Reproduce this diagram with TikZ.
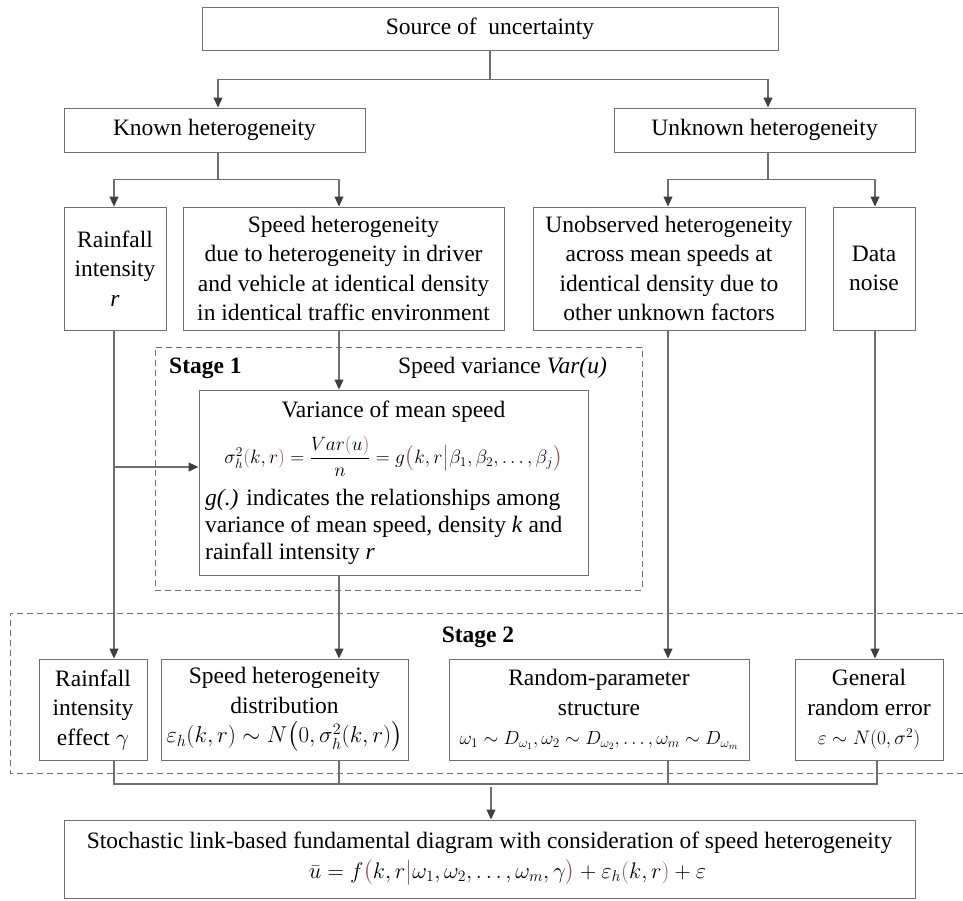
\RequirePackage{fix-cm}
\documentclass[tikz,border=0pt]{standalone}
\usepackage{amsmath}
\usepackage{fontspec}
\setmainfont{Liberation Serif}
\usetikzlibrary{arrows.meta}
\definecolor{linec}{HTML}{6E6E6E}
\definecolor{tipc}{HTML}{3F3F3F}
\definecolor{boxc}{HTML}{707070}
\definecolor{pc}{HTML}{8C5A55}
\newcommand\fs{\fontsize{23.5}{29.5}\selectfont\lineskiplimit=-100pt\relax}
\newcommand\msz[1]{\fontsize{#1}{29.5}\selectfont}
\newcommand\plp{\textcolor{pc}{(}}
\newcommand\prp{\textcolor{pc}{)}}
\newcommand\pblp{\textcolor{pc}{\bigl(}}
\newcommand\pbrp{\textcolor{pc}{\bigr)}}
\newcommand\pbar{\textcolor{pc}{\big|}}
\begin{document}
\begin{tikzpicture}[x=1pt,y=-1pt,
  box/.style={draw=boxc, line width=1pt, inner sep=0pt, align=center, font=\fs, text=black},
  lbl/.style={inner sep=0pt, font=\fs},
  conn/.style={draw=linec, line width=1.1pt},
  arr/.style={conn, -{Triangle[length=10pt,width=9pt,color=tipc]}},
  dashbox/.style={draw=linec, line width=0.9pt, dash pattern=on 6pt off 4pt}]
\useasboundingbox (0,0) rectangle (963,900);
% row 1-2
\node[box, minimum width=576pt, minimum height=43pt] (src) at (490,28.5) {Source of\ \ uncertainty};
\node[box, minimum width=301pt, minimum height=44pt] (known) at (214.5,130) {Known heterogeneity};
\node[box, minimum width=301pt, minimum height=44pt] (unknown) at (764.5,130) {Unknown heterogeneity};
% row 3
\node[box, minimum width=102pt, minimum height=123pt] (rain) at (115,268.5) {Rainfall\\intensity\\\textit{r}};
\node[box, minimum width=321pt, minimum height=123pt] (speed) at (343.5,268.5) {Speed heterogeneity\\due to heterogeneity in driver\\and vehicle at identical density\\in identical traffic environment};
\node[box, minimum width=272pt, minimum height=123pt] (unobs) at (669,268.5) {Unobserved heterogeneity\\across mean speeds at\\identical density due to\\other unknown factors};
\node[box, minimum width=82pt, minimum height=123pt] (data) at (874,268.5) {Data\\noise};
% stage 1
\node[dashbox, minimum width=487pt, minimum height=243pt, inner sep=0pt] (stage1) at (398.5,468.5) {};
\node[lbl, anchor=west, font=\fs\bfseries] (s1) at (169,368) {Stage 1};
\node[lbl, anchor=east] (sv) at (607,368) {Speed variance \textit{Var(u)}};
\node[box, minimum width=389pt, minimum height=185pt] (var) at (393.5,482.5) {};
\node[lbl] (vt) at (393.5,412) {Variance of mean speed};
\node[lbl, font=\msz{19.3}] (vf) at (393.5,456) {$\sigma_h^2\plp k,r\prp=\dfrac{Var\plp u\prp}{n}=g\pblp k,r\pbar\beta_1,\beta_2,\dots,\beta_j\pbrp$};
\node[lbl, align=left, anchor=base west, font=\fontsize{23.5}{27}\selectfont] (vd) at (205,559) {\textit{g(.)} indicates the relationships among\\variance of mean speed, density \textit{k} and\\rainfall intensity \textit{r}};
% stage 2
\draw[dashbox] (963,613) -- (10,613) -- (10,773) -- (963,773);
\node[lbl, font=\fs\bfseries] (s2) at (478,637) {Stage 2};
\node[box, minimum width=108pt, minimum height=101pt] (reff) at (93,709.5) {Rainfall\\intensity\\effect $\gamma$};
\node[box, minimum width=247pt, minimum height=101pt] (sdist) at (284.5,709.5) {Speed heterogeneity\\distribution\\{\msz{23}$\varepsilon_h(k,r)\sim N\bigl(0,\sigma_h^2(k,r)\bigr)$}};
\node[box, minimum width=300pt, minimum height=101pt] (rand) at (599,709.5) {Random-parameter\\structure\\{\msz{19}$\omega_1\sim D_{\omega_1},\omega_2\sim D_{\omega_2},\dots,\omega_m\sim D_{\omega_m}$}};
\node[box, minimum width=148pt, minimum height=101pt] (gen) at (869,709.5) {General\\random error\\{\msz{19.5}$\varepsilon\sim N(0,\sigma^2)$}};
% final
\node[box, minimum width=851pt, minimum height=78pt] (final) at (489.5,859) {Stochastic link-based fundamental diagram with consideration of speed heterogeneity\\{\msz{22.5}\hspace*{36pt}$\bar u=f\pblp k,r\pbar\omega_1,\omega_2,\dots,\omega_m,\gamma\pbrp+\varepsilon_h\plp k,r\prp+\varepsilon$}};
% connectors
\draw[arr] (src.south) -- ++(0,29) -| ([xshift=3.5pt]known.north);
\draw[arr] (src.south) -- ++(0,29) -| ([xshift=3.5pt]unknown.north);
\draw[arr] ([xshift=3.5pt]known.south) -- ++(0,27) -| ([xshift=-1pt]rain.north);
\draw[arr] ([xshift=3.5pt]known.south) -- ++(0,27) -| ([xshift=-4.5pt]speed.north);
\draw[arr] ([xshift=3.5pt]unknown.south) -- ++(0,27) -| ([xshift=-1pt]unobs.north);
\draw[arr] ([xshift=3.5pt]unknown.south) -- ++(0,27) -| ([xshift=1pt]data.north);
\draw[arr] ([xshift=-4.5pt]speed.south) -- ([xshift=-54.5pt]var.north);
\draw[arr] ([xshift=-1pt]rain.south) -- ([xshift=21pt]reff.north);
\coordinate (br) at (114,467);
\draw[arr] (br) -- ([yshift=15.5pt]var.west);
\draw[arr] ([xshift=-54.5pt]var.south) -- ([xshift=54.5pt]sdist.north);
\draw[arr] ([xshift=-1pt]unobs.south) -- ([xshift=69pt]rand.north);
\draw[arr] ([xshift=1pt]data.south) -- ([xshift=6pt]gen.north);
\coordinate (bl) at (114,784);
\coordinate (brr) at (877,784);
\draw[conn] ([xshift=21pt]reff.south) -- (bl) -- (brr) -- ([xshift=8pt]gen.south);
\draw[conn] ([xshift=54.5pt]sdist.south) -- ++(0,24);
\draw[conn] ([xshift=69pt]rand.south) -- ++(0,24);
\coordinate (ms) at (491,787);
\draw[arr] (ms) -- ([xshift=1.5pt]final.north);
\end{tikzpicture}
\end{document}
